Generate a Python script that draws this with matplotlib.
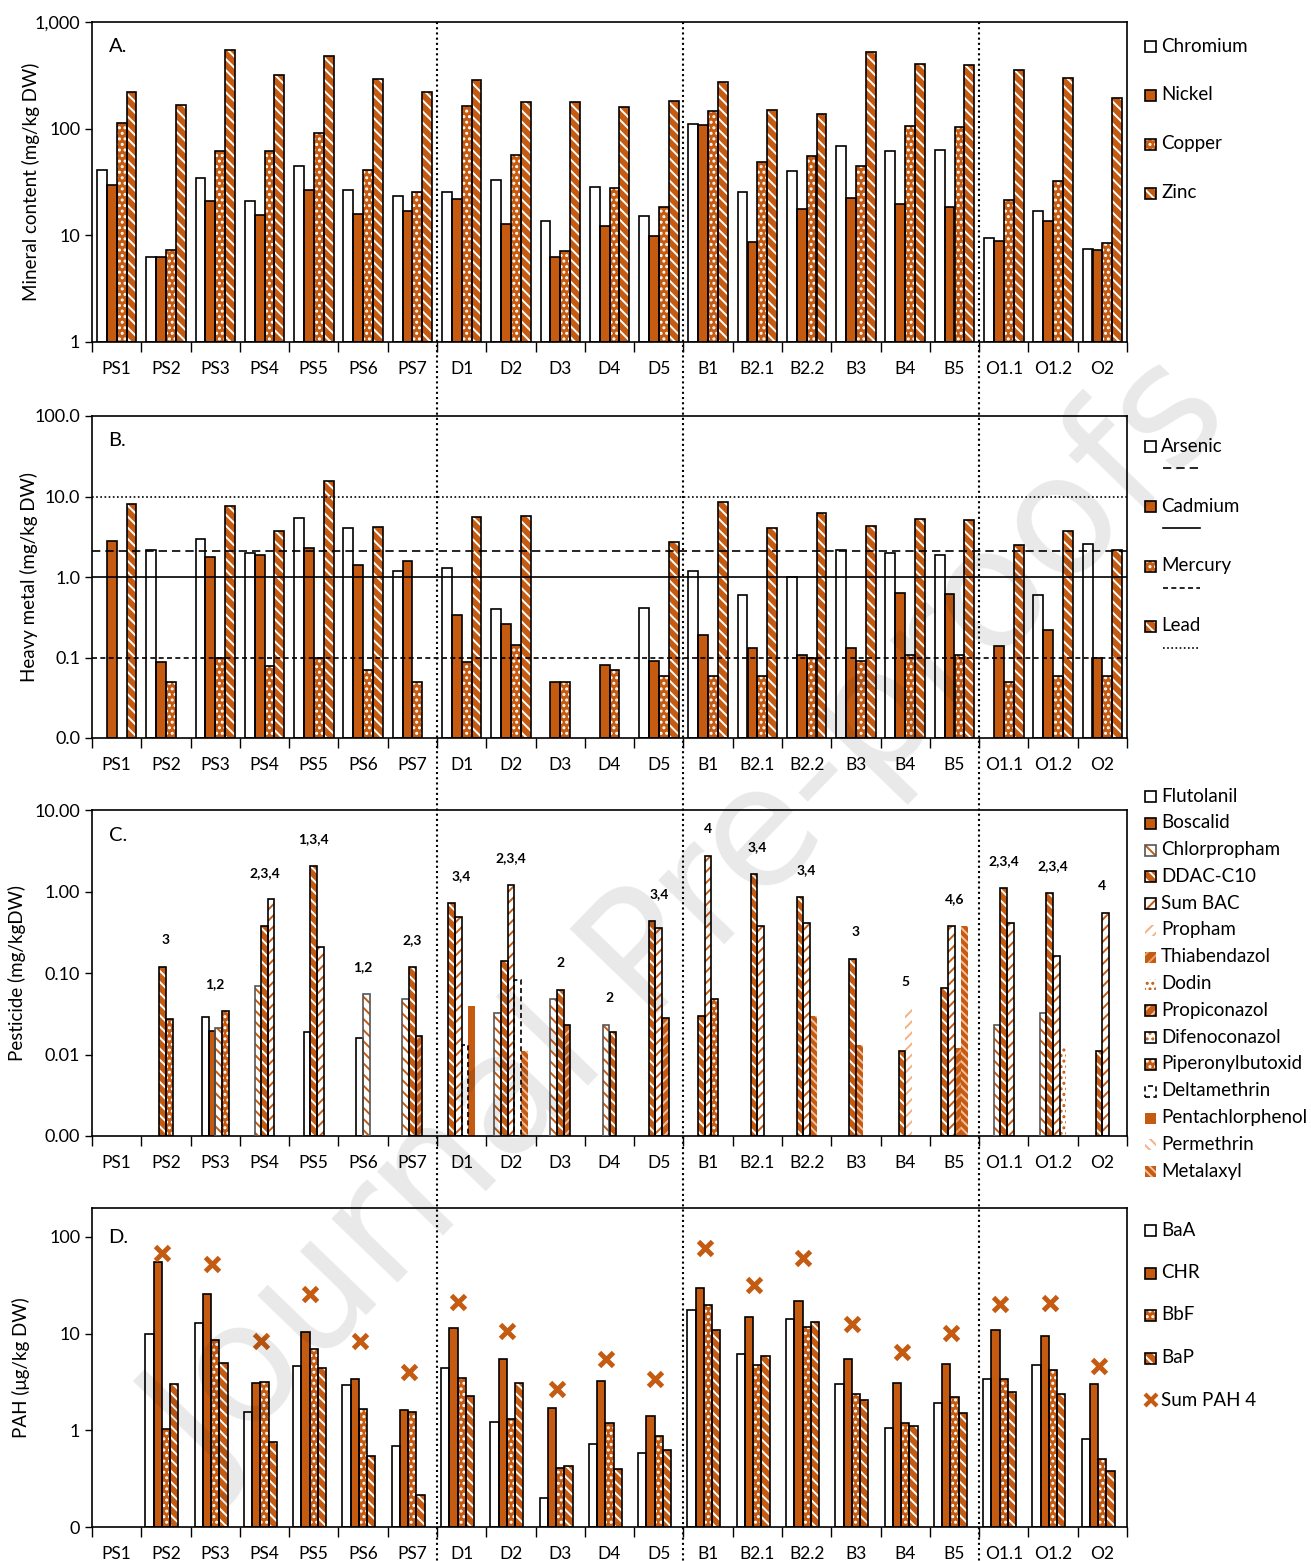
import numpy as np
import matplotlib
matplotlib.use('Agg')
import matplotlib.pyplot as plt
from matplotlib.patches import Rectangle
from matplotlib.lines import Line2D
from matplotlib.ticker import NullLocator

plt.rcParams['font.family'] = ['Lato', 'DejaVu Sans']
plt.rcParams['hatch.linewidth'] = 1.4

sites = ['PS1', 'PS2', 'PS3', 'PS4', 'PS5', 'PS6', 'PS7', 'D1', 'D2', 'D3', 'D4', 'D5',
         'B1', 'B2.1', 'B2.2', 'B3', 'B4', 'B5', 'O1.1', 'O1.2', 'O2']

# A. minerals (mg/kg DW)
chromium = [40.9, 6.3, 34.7, 21.0, 44.9, 26.4, 23.2, 25.5, 33.0, 13.6, 28.4, 15.2, 110, 25.5, 40.0, 68.7, 61.7, 63.0, 9.4, 16.9, 7.4]
nickel = [29.6, 6.2, 20.8, 15.5, 26.8, 15.9, 16.8, 21.9, 12.8, 6.2, 12.2, 9.8, 108, 8.7, 17.6, 22.4, 19.7, 18.4, 8.8, 13.6, 7.3]
copper = [112, 7.3, 61.7, 61.7, 91.5, 40.9, 25.6, 163, 56.6, 7.1, 27.7, 18.4, 146, 48.6, 55.4, 44.6, 106, 103, 21.4, 32.3, 8.5]
zinc = [220, 165, 545, 320, 476, 292, 220, 285, 178, 178, 159, 181, 273, 149, 137, 522, 403, 394, 354, 298, 194]

# B. heavy metals (mg/kg DW), 0 = not shown
arsenic = [0, 2.16, 2.99, 1.99, 5.36, 4.1, 1.19, 1.28, 0.40, 0, 0, 0.41, 1.19, 0.6, 1.0, 2.16, 2.0, 1.88, 0, 0.6, 2.57]
cadmium = [2.83, 0.088, 1.79, 1.88, 2.27, 1.4, 1.58, 0.334, 0.26, 0.049, 0.08, 0.09, 0.19, 0.13, 0.107, 0.13, 0.63, 0.61, 0.14, 0.22, 0.1]
mercury = [0, 0.049, 0.1, 0.079, 0.1, 0.069, 0.049, 0.088, 0.143, 0.049, 0.07, 0.059, 0.059, 0.059, 0.1, 0.09, 0.107, 0.107, 0.049, 0.059, 0.059]
lead = [8.14, 0, 7.55, 3.76, 15.6, 4.18, 0, 5.56, 5.7, 0, 0, 2.72, 8.55, 4.06, 6.2, 4.3, 5.25, 5.1, 2.5, 3.7, 2.16]
metal_limits = [2.1, 1.0, 0.1, 10.0]   # arsenic, cadmium, mercury, lead

# C. pesticides (mg/kg DW)
flutolanil = [0, 0, 0.029, 0, 0.019, 0.016, 0, 0, 0, 0, 0, 0, 0, 0, 0, 0, 0, 0, 0, 0, 0]
boscalid = [0, 0, 0.0196, 0, 0, 0, 0, 0, 0, 0, 0, 0, 0, 0, 0, 0, 0, 0, 0, 0, 0]
chlorpropham = [0, 0, 0.021, 0.069, 0, 0.056, 0.048, 0, 0.032, 0.048, 0.023, 0, 0, 0, 0, 0, 0, 0, 0.023, 0.032, 0]
ddac_c10 = [0, 0.12, 0, 0.38, 2.07, 0, 0.12, 0.73, 0.14, 0.062, 0.019, 0.44, 0.03, 1.63, 0.85, 0.15, 0.011, 0.065, 1.1, 0.95, 0.011]
sum_bac = [0, 0, 0, 0.80, 0.21, 0, 0, 0.48, 1.19, 0, 0, 0.36, 2.75, 0.38, 0.41, 0, 0, 0.38, 0.41, 0.16, 0.55]
propham = [0, 0, 0, 0, 0, 0, 0, 0, 0, 0, 0, 0, 0, 0, 0, 0, 0.036, 0, 0, 0, 0]
thiabendazol = [0, 0, 0, 0, 0, 0, 0, 0, 0, 0, 0, 0, 0, 0, 0, 0, 0, 0.012, 0, 0, 0]
dodin = [0, 0, 0, 0, 0, 0, 0, 0, 0, 0, 0, 0, 0, 0, 0, 0, 0, 0, 0, 0.0128, 0]
propiconazol = [0, 0, 0, 0, 0, 0, 0.017, 0, 0, 0.023, 0, 0.028, 0, 0, 0, 0, 0, 0, 0, 0, 0]
difenoconazol = [0] * 21
piperonylbutoxid = [0, 0.0275, 0.034, 0, 0, 0, 0, 0, 0, 0, 0, 0, 0.048, 0, 0, 0, 0, 0, 0, 0, 0]
deltamethrin = [0, 0, 0, 0, 0, 0, 0, 0.013, 0.082, 0, 0, 0, 0, 0, 0, 0, 0, 0, 0, 0, 0]
pentachlorphenol = [0, 0, 0, 0, 0, 0, 0, 0.039, 0, 0, 0, 0, 0, 0, 0, 0, 0, 0, 0, 0, 0]
permethrin = [0] * 21
metalaxyl = [0, 0, 0, 0, 0, 0, 0, 0, 0.011, 0, 0, 0, 0, 0, 0.030, 0.013, 0, 0.38, 0, 0, 0]
pest_notes = ['', '3', '1,2', '2,3,4', '1,3,4', '1,2', '2,3', '3,4', '2,3,4', '2', '2', '3,4',
              '4', '3,4', '3,4', '3', '5', '4,6', '2,3,4', '2,3,4', '4']

# D. PAH (ug/kg DW)
baa = [0, 10, 12.8, 1.56, 4.57, 2.91, 0.68, 4.46, 1.21, 0.2, 0.72, 0.58, 17.7, 6.2, 14.3, 2.98, 1.05, 1.9, 3.36, 4.68, 0.81]
chr_ = [0, 55.2, 25.8, 3.07, 10.5, 3.36, 1.61, 11.5, 5.5, 1.69, 3.2, 1.39, 29.8, 15, 21.9, 5.4, 3.05, 4.8, 11, 9.5, 2.98]
bbf = [0, 1.04, 8.6, 3.15, 6.9, 1.66, 1.53, 3.5, 1.3, 0.41, 1.18, 0.87, 19.9, 4.7, 11.8, 2.4, 1.18, 2.19, 3.43, 4.25, 0.5]
bap = [0, 2.98, 4.99, 0.75, 4.43, 0.54, 0.215, 2.24, 3.05, 0.43, 0.4, 0.62, 11, 5.9, 13.3, 2.04, 1.1, 1.5, 2.46, 2.4, 0.38]
sum_pah4 = [np.nan, 68.9, 52.3, 8.3, 25.8, 8.3, 4.03, 21.4, 10.7, 2.7, 5.4, 3.36, 77, 32, 60.8, 12.7, 6.4, 10.2, 20.4, 20.9, 4.57]

OR = '#C55A11'
LO = '#F4B183'
# style: face, hatch, hatch colour, edge colour, edge style
S_WHITE = ('white', None, 'white', 'black', '-')
S_SOLID = (OR, None, OR, 'black', '-')
S_DOTS = (OR, '...', 'white', 'black', '-')
S_STRIPE = (OR, '\\\\\\', 'white', 'black', '-')
pest_styles = [
    ('Flutolanil', flutolanil, S_WHITE),
    ('Boscalid', boscalid, S_SOLID),
    ('Chlorpropham', chlorpropham, ('white', '\\\\\\', OR, '#555555', '-')),
    ('DDAC-C10', ddac_c10, (OR, '\\\\\\', 'white', 'black', '-')),
    ('Sum BAC', sum_bac, ('white', '///', OR, 'black', '-')),
    ('Propham', propham, ('white', '///', LO, None, '-')),
    ('Thiabendazol', thiabendazol, (OR, '///', '#E8A070', None, '-')),
    ('Dodin', dodin, ('white', '...', OR, None, '-')),
    ('Propiconazol', propiconazol, (OR, '///', '#F2C0A0', 'black', '-')),
    ('Difenoconazol', difenoconazol, ('white', '...', OR, 'black', '-')),
    ('Piperonylbutoxid', piperonylbutoxid, (OR, '...', 'white', 'black', '-')),
    ('Deltamethrin', deltamethrin, ('white', None, 'white', 'black', (0, (3, 2)))),
    ('Pentachlorphenol', pentachlorphenol, (OR, None, OR, None, '-')),
    ('Permethrin', permethrin, ('white', '\\\\\\', LO, None, '-')),
    ('Metalaxyl', metalaxyl, (OR, '\\\\\\\\', '#F2C0A0', None, '-')),
]

W, H = 1311.0, 1561.0
fig = plt.figure(figsize=(W / 100, H / 100), dpi=100)
X0, X1 = 92, 1127


def make_axes(top, bottom):
    return fig.add_axes([X0 / W, 1 - bottom / H, (X1 - X0) / W, (bottom - top) / H])


def draw_bar(ax, x, v, w, base, st, z=2):
    if v is None or np.isnan(v) or v <= base:
        return
    face, hatch, hc, edge, ls = st
    ax.bar(x, v - base, w, base, color=face, hatch=hatch, edgecolor=hc, linewidth=0, zorder=z)
    if edge:
        ax.bar(x, v - base, w, base, fill=False, edgecolor=edge, linewidth=1.2, linestyle=ls, zorder=z + 1)


def style_axis(ax, ylim, ticks, labels, ylabel, letter, lab_x, let_y):
    ax.set_yscale('log')
    ax.set_ylim(*ylim)
    ax.set_xlim(-0.5, 20.5)
    ax.set_yticks(ticks)
    ax.set_yticklabels(labels)
    ax.yaxis.set_minor_locator(NullLocator())
    ax.set_xticks(np.arange(-0.5, 21, 1))
    ax.set_xticklabels([])
    ax.set_xticks(np.arange(21), minor=True)
    ax.set_xticklabels(sites, minor=True)
    ax.tick_params(axis='x', which='major', length=7, direction='out', width=1)
    ax.tick_params(axis='x', which='minor', length=0, pad=14, labelsize=12.5)
    ax.tick_params(axis='y', length=5, labelsize=13, width=1)
    for s in ax.spines.values():
        s.set_linewidth(1.2)
    ax.set_ylabel(ylabel, fontsize=13.5)
    ax.yaxis.set_label_coords((lab_x - X0) / (X1 - X0), 0.5)
    ax.text(0.016, let_y, letter, transform=ax.transAxes, fontsize=14.5, va='center')


def legend_box(xp, yp, st):
    face, hatch, hc, edge, ls = st
    fig.add_artist(Rectangle((xp / W, 1 - (yp + 6) / H), 11 / W, 11 / H, transform=fig.transFigure,
                             facecolor=face, hatch=hatch, edgecolor=hc, linewidth=0))
    if edge:
        fig.add_artist(Rectangle((xp / W, 1 - (yp + 6) / H), 11 / W, 11 / H, transform=fig.transFigure,
                                 fill=False, edgecolor=edge, linewidth=1.2, linestyle=ls))


def legend_text(yp, label):
    fig.text(1161 / W, 1 - yp / H, label, va='center', ha='left', fontsize=13.5)


x = np.arange(21)

# ---- A
axA = make_axes(22, 342)
for k, (vals, st) in enumerate([(chromium, S_WHITE), (nickel, S_SOLID), (copper, S_DOTS), (zinc, S_STRIPE)]):
    for i in range(21):
        draw_bar(axA, x[i] + (k - 1.5) * 0.2, vals[i], 0.2, 1, st)
style_axis(axA, (1, 1000), [1, 10, 100, 1000], ['1', '10', '100', '1,000'],
           'Mineral content (mg/kg DW)', 'A.', 40, 0.922)
for j, (lab, st) in enumerate([('Chromium', S_WHITE), ('Nickel', S_SOLID), ('Copper', S_DOTS), ('Zinc', S_STRIPE)]):
    legend_box(1145, 46 + 49 * j, st)
    legend_text(46 + 49 * j, lab)

# ---- B
axB = make_axes(416, 738)
for k, (vals, st) in enumerate([(arsenic, S_WHITE), (cadmium, S_SOLID), (mercury, S_DOTS), (lead, S_STRIPE)]):
    for i in range(21):
        draw_bar(axB, x[i] + (k - 1.5) * 0.2, vals[i], 0.2, 0.01, st)
line_styles = [(0, (5, 3)), '-', (0, (3, 2)), (0, (1, 1.5))]
for lim, lsty in zip(metal_limits, line_styles):
    axB.axhline(lim, color='black', linestyle=lsty, linewidth=1.2, zorder=5)
style_axis(axB, (0.01, 100), [0.01, 0.1, 1, 10, 100], ['0.0', '0.1', '1.0', '10.0', '100.0'],
           'Heavy metal (mg/kg DW)', 'B.', 38, 0.925)
for j, (lab, st) in enumerate([('Arsenic', S_WHITE), ('Cadmium', S_SOLID), ('Mercury', S_DOTS), ('Lead', S_STRIPE)]):
    yp = 446 + 60 * j
    legend_box(1145, yp, st)
    legend_text(yp, lab)
    fig.add_artist(Line2D([1163 / W, 1200 / W], [1 - (yp + 22) / H] * 2, transform=fig.transFigure,
                          color='black', linewidth=1.2, linestyle=line_styles[j]))

# ---- C
axC = make_axes(810, 1136)
bw = 0.135
for i in range(21):
    present = [(vals[i], st) for name, vals, st in pest_styles if vals[i] > 0]
    n = len(present)
    for k, (v, st) in enumerate(present):
        draw_bar(axC, x[i] + (k - (n - 1) / 2) * bw, v, bw, 0.001, st)
    if n:
        top = max(v for v, st in present)
        axC.text(x[i], top * 1.8, pest_notes[i], ha='center', va='bottom', fontsize=10, fontweight='bold')
style_axis(axC, (0.001, 10), [0.001, 0.01, 0.1, 1, 10], ['0.00', '0.01', '0.10', '1.00', '10.00'],
           'Pesticide (mg/kgDW)', 'C.', 26, 0.923)
for j, (name, vals, st) in enumerate(pest_styles):
    yp = 796 + 26.8 * j
    legend_box(1145, yp, st)
    legend_text(yp, name)

# ---- D
axD = make_axes(1208, 1527)
for k, (vals, st) in enumerate([(baa, S_WHITE), (chr_, S_SOLID), (bbf, S_DOTS), (bap, S_STRIPE)]):
    for i in range(21):
        draw_bar(axD, x[i] + (k - 2) * 0.168, vals[i], 0.168, 0.1, st)
axD.plot(x - 0.07, sum_pah4, linestyle='none', marker='x', color=OR, markersize=10, markeredgewidth=3.5, zorder=6)
style_axis(axD, (0.1, 199), [0.1, 1, 10, 100], ['0', '1', '10', '100'],
           'PAH (\u03bcg/kg DW)', 'D.', 30, 0.909)
for j, (lab, st) in enumerate([('BaA', S_WHITE), ('CHR', S_SOLID), ('BbF', S_DOTS), ('BaP', S_STRIPE)]):
    yp = 1230 + 42.5 * j
    legend_box(1145, yp, st)
    legend_text(yp, lab)
fig.add_artist(Line2D([1150.5 / W], [1 - 1400 / H], transform=fig.transFigure, linestyle='none',
                      marker='x', color=OR, markersize=9, markeredgewidth=3))
legend_text(1400, 'Sum PAH 4')

# dotted separators between site types
for b in [6.5, 11.5, 17.5]:
    xf = (X0 + (b + 0.5) / 21 * (X1 - X0)) / W
    fig.add_artist(Line2D([xf, xf], [1 - 22 / H, 0], transform=fig.transFigure,
                          color='black', linestyle=(0, (1, 1.5)), linewidth=1.5))

# watermark
fig.text(0.527, 0.41, 'Journal Pre-proofs', rotation=46, fontsize=120, color='black', alpha=0.09,
         ha='center', va='center', family='DejaVu Sans')

fig.savefig('out.png', dpi=100)
